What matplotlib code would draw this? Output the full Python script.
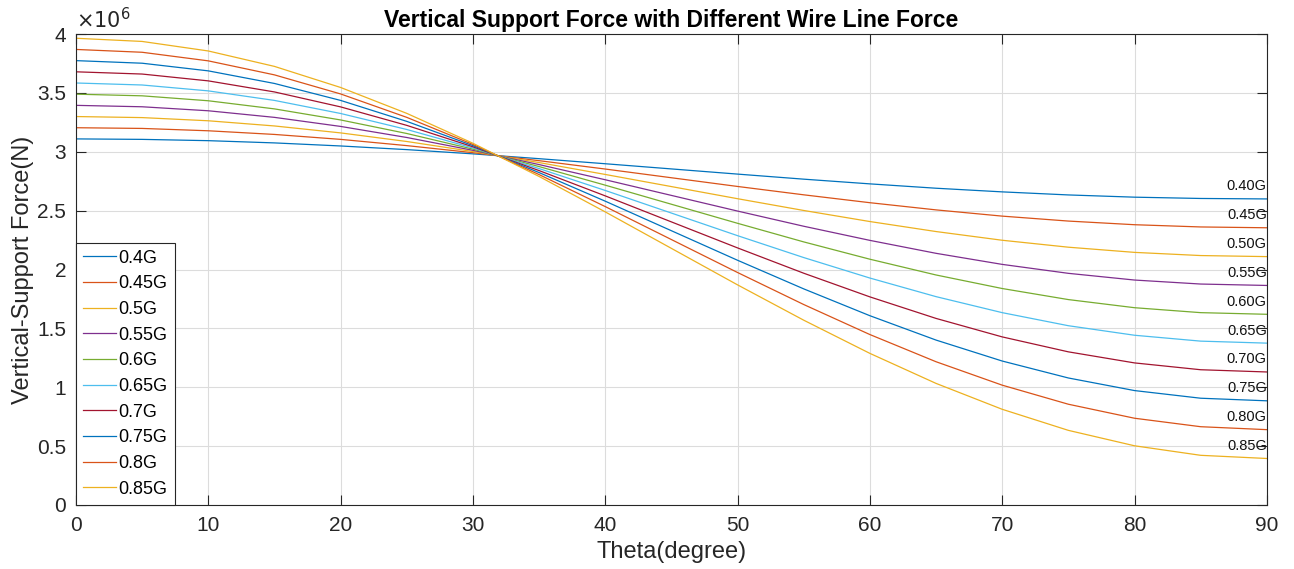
import matplotlib.pyplot as plt
from matplotlib.ticker import MultipleLocator

# Theta sample points (degree) and support force (x1e6 N)
theta = [0, 5, 10, 15, 20, 25, 30, 35, 40, 45, 50, 55, 60, 65, 70, 75, 80, 85, 90]

force_040 = [3.110, 3.106, 3.095, 3.076, 3.050, 3.019, 2.983, 2.942, 2.899, 2.855,
             2.811, 2.768, 2.728, 2.691, 2.660, 2.634, 2.615, 2.604, 2.600]
force_045 = [3.205, 3.199, 3.179, 3.148, 3.106, 3.053, 2.993, 2.925, 2.854, 2.780,
             2.706, 2.635, 2.568, 2.507, 2.454, 2.412, 2.381, 2.362, 2.355]
force_050 = [3.300, 3.291, 3.264, 3.220, 3.161, 3.088, 3.003, 2.909, 2.808, 2.705,
             2.602, 2.502, 2.408, 2.323, 2.249, 2.190, 2.146, 2.119, 2.110]
force_055 = [3.395, 3.383, 3.349, 3.293, 3.216, 3.122, 3.013, 2.892, 2.763, 2.630,
             2.497, 2.368, 2.248, 2.138, 2.044, 1.968, 1.911, 1.877, 1.865]
force_060 = [3.490, 3.476, 3.434, 3.365, 3.271, 3.156, 3.023, 2.875, 2.717, 2.555,
             2.393, 2.235, 2.088, 1.954, 1.839, 1.745, 1.676, 1.634, 1.620]
force_065 = [3.585, 3.568, 3.518, 3.437, 3.326, 3.190, 3.033, 2.858, 2.672, 2.480,
             2.288, 2.102, 1.928, 1.770, 1.634, 1.523, 1.442, 1.392, 1.375]
force_070 = [3.680, 3.661, 3.603, 3.509, 3.382, 3.225, 3.043, 2.841, 2.626, 2.405,
             2.184, 1.969, 1.768, 1.585, 1.428, 1.301, 1.207, 1.149, 1.130]
force_075 = [3.775, 3.753, 3.688, 3.581, 3.437, 3.259, 3.053, 2.824, 2.581, 2.330,
             2.079, 1.836, 1.608, 1.401, 1.223, 1.079, 0.972, 0.907, 0.885]
force_080 = [3.870, 3.846, 3.773, 3.654, 3.492, 3.293, 3.063, 2.807, 2.535, 2.255,
             1.975, 1.703, 1.448, 1.217, 1.018, 0.856, 0.737, 0.665, 0.640]
force_085 = [3.965, 3.938, 3.857, 3.726, 3.547, 3.327, 3.073, 2.791, 2.490, 2.180,
             1.870, 1.570, 1.288, 1.033, 0.813, 0.634, 0.503, 0.422, 0.395]

series = [force_040, force_045, force_050, force_055, force_060,
          force_065, force_070, force_075, force_080, force_085]
legend_labels = ['0.4G', '0.45G', '0.5G', '0.55G', '0.6G',
                 '0.65G', '0.7G', '0.75G', '0.8G', '0.85G']
end_labels = ['0.40G', '0.45G', '0.50G', '0.55G', '0.60G',
              '0.65G', '0.70G', '0.75G', '0.80G', '0.85G']

# MATLAB default color order
colors = ['#0072BD', '#D95319', '#EDB120', '#7E2F8E', '#77AC30',
          '#4DBEEE', '#A2142F']

plt.rcParams['font.family'] = ['Liberation Sans', 'DejaVu Sans']

fig = plt.figure(figsize=(12.94, 5.69), dpi=100)
ax = fig.add_axes([0.0587, 0.1125, 0.9203, 0.8275])

for i, vals in enumerate(series):
    ax.plot(theta, [v * 1e6 for v in vals], color=colors[i % len(colors)],
            linewidth=0.9, label=legend_labels[i])
    ax.annotate(end_labels[i], xy=(theta[-1], vals[-1] * 1e6),
                xytext=(0, 4), textcoords='offset points',
                ha='right', va='bottom', fontsize=10.5, color='#111111')

ax.set_xlim(0, 90)
ax.set_ylim(0, 4e6)
ax.xaxis.set_major_locator(MultipleLocator(10))
ax.yaxis.set_major_locator(MultipleLocator(0.5e6))
ax.set_xticks(ax.get_xticks())
ax.set_xticklabels([f'{int(t)}' for t in ax.get_xticks()])
ax.set_yticks(ax.get_yticks())
ax.set_yticklabels([f'{t / 1e6:g}' for t in ax.get_yticks()])
ax.set_xlim(0, 90)
ax.set_ylim(0, 4e6)

ax.grid(True, color='#dcdcdc', linewidth=0.8)
ax.set_axisbelow(True)
ax.tick_params(direction='in', top=True, right=True, length=7,
               labelsize=15, colors='#262626', width=0.8)
ax.tick_params(axis='x', pad=8)
ax.tick_params(axis='y', pad=7)
for sp in ax.spines.values():
    sp.set_color('#262626')
    sp.set_linewidth(0.8)

ax.text(0.0, 1.004, r'$\times10^6$', transform=ax.transAxes,
        ha='left', va='bottom', fontsize=15, color='#262626')

ax.set_xlabel('Theta(degree)', fontsize=17, color='#262626', labelpad=4)
ax.set_ylabel('Vertical-Support Force(N)', fontsize=17, color='#262626', labelpad=2)
ax.set_title('Vertical Support Force with Different Wire Line Force',
             fontsize=16.5, fontweight='bold', pad=5)

leg = ax.legend(loc='lower left', fontsize=13, frameon=True, fancybox=False,
                handlelength=1.8, handletextpad=0.15, labelspacing=0.48,
                borderaxespad=0.0, borderpad=0.4)
leg.get_frame().set_edgecolor('#262626')
leg.get_frame().set_linewidth(0.8)
leg.get_frame().set_alpha(1.0)

fig.savefig('out.png', dpi=100)
